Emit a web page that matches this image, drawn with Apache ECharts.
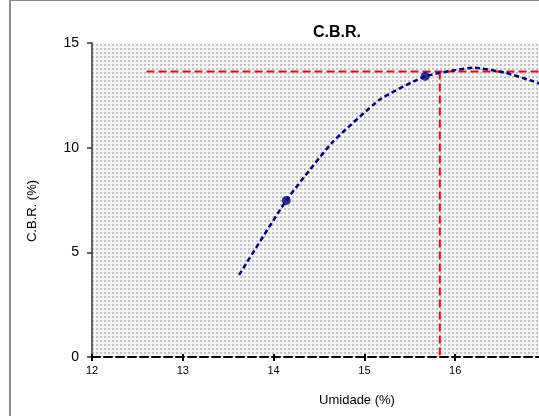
<!DOCTYPE html>
<html>
<head>
<meta charset="utf-8">
<script src="https://cdn.jsdelivr.net/npm/echarts@6/dist/echarts.min.js"></script>
<style>
  html, body { margin: 0; padding: 0; background: #fff; }
  #chart { width: 539px; height: 416px; }
</style>
</head>
<body>
<div id="chart"></div>
<script>
// curva de compactação / CBR
const umidadeCurva = [13.62, 14.14, 14.64, 15.17, 15.67, 16.2, 16.55, 16.86, 17.0]
const cbrCurva = [3.92, 7.48, 10.22, 12.3, 13.41, 13.82, 13.58, 13.17, 12.95]

// pontos ensaiados
const umidadePontos = [14.14, 15.67]
const cbrPontos = [7.48, 13.41]

// linhas de referência (umidade ótima / CBR)
const umidadeOtima = 15.83
const cbrMax = 13.64
const inicioHorizontal = 12.6

const xTicks = [12, 13, 14, 15, 16, 17]
const yTicks = [0, 5, 10, 15]

function dotPattern() {
  const c = document.createElement('canvas')
  c.width = 4
  c.height = 4
  const ctx = c.getContext('2d')
  ctx.fillStyle = '#f6f6f6'
  ctx.fillRect(0, 0, 4, 4)
  ctx.fillStyle = '#c4c4c4'
  ctx.fillRect(0, 0, 2, 2)
  return { image: c, repeat: 'repeat' }
}

const chart = echarts.init(document.getElementById('chart'))

const xBase = {
  type: 'value',
  min: xTicks[0],
  max: xTicks[xTicks.length - 1],
  interval: 1,
  splitLine: { show: false }
}

const option = {
  animation: false,
  backgroundColor: '#fff',
  title: [
    {
      text: 'C.B.R.',
      left: 332,
      top: 20,
      textAlign: 'center',
      textStyle: { fontFamily: 'Liberation Sans', fontSize: 16, fontWeight: 'bold', color: '#000' }
    },
    {
      text: 'Umidade (%)',
      left: 352,
      top: 389,
      textAlign: 'center',
      textStyle: { fontFamily: 'Liberation Sans', fontSize: 13, fontWeight: 'normal', color: '#000' }
    }
  ],
  graphic: [
    {
      type: 'rect',
      shape: { x: 10, y: 0, width: 600, height: 500 },
      style: { fill: 'none', stroke: '#8c8c8c', lineWidth: 2 },
      z: 100
    },
    {
      type: 'text',
      x: 32,
      y: 211,
      rotation: Math.PI / 2,
      style: {
        text: 'C.B.R. (%)',
        fontFamily: 'Liberation Sans',
        fontSize: 13,
        fill: '#000',
        align: 'center',
        verticalAlign: 'middle'
      }
    }
  ],
  grid: {
    left: 92,
    top: 43,
    right: -7,
    bottom: 59,
    outerBoundsMode: 'none',
    containLabel: false,
    show: true,
    borderWidth: 0,
    backgroundColor: dotPattern()
  },
  xAxis: [
    {
      ...xBase,
      axisLine: { show: true, lineStyle: { color: '#000', width: 2, type: [8, 4] } },
      axisTick: { show: true, length: 4, lineStyle: { color: '#000', width: 2 } },
      axisLabel: { fontFamily: 'Liberation Sans', fontSize: 11, color: '#000', margin: 8 }
    },
    {
      ...xBase,
      position: 'bottom',
      axisLine: { show: false },
      axisTick: { show: true, inside: true, length: 3, lineStyle: { color: '#000', width: 2 } },
      axisLabel: { show: false }
    }
  ],
  yAxis: {
    type: 'value',
    min: yTicks[0],
    max: yTicks[yTicks.length - 1],
    interval: 5,
    splitLine: { show: false },
    axisLine: { show: true, lineStyle: { color: '#333', width: 1.5 } },
    axisTick: { show: true, length: 5, lineStyle: { color: '#333', width: 1.5 } },
    axisLabel: { fontFamily: 'Liberation Sans', fontSize: 14, color: '#000', margin: 13 }
  },
  series: [
    {
      type: 'line',
      data: [[inicioHorizontal, cbrMax], [xTicks[xTicks.length - 1], cbrMax]],
      symbol: 'none',
      lineStyle: { color: '#ff0000', width: 2, type: [8, 4] },
      z: 2
    },
    {
      type: 'line',
      data: [[umidadeOtima, cbrMax], [umidadeOtima, 0]],
      symbol: 'none',
      lineStyle: { color: '#ff0000', width: 2, type: [8, 4] },
      z: 2
    },
    {
      type: 'line',
      data: umidadeCurva.map((x, i) => [x, cbrCurva[i]]),
      smooth: 0.15,
      symbol: 'none',
      lineStyle: { color: '#000080', width: 2.5, type: [5, 3] },
      z: 3
    },
    {
      type: 'scatter',
      data: umidadePontos.map((x, i) => [x, cbrPontos[i]]),
      symbol: 'circle',
      symbolSize: 9,
      itemStyle: { color: '#000080' },
      z: 4
    }
  ]
}

chart.setOption(option)
</script>
</body>
</html>
